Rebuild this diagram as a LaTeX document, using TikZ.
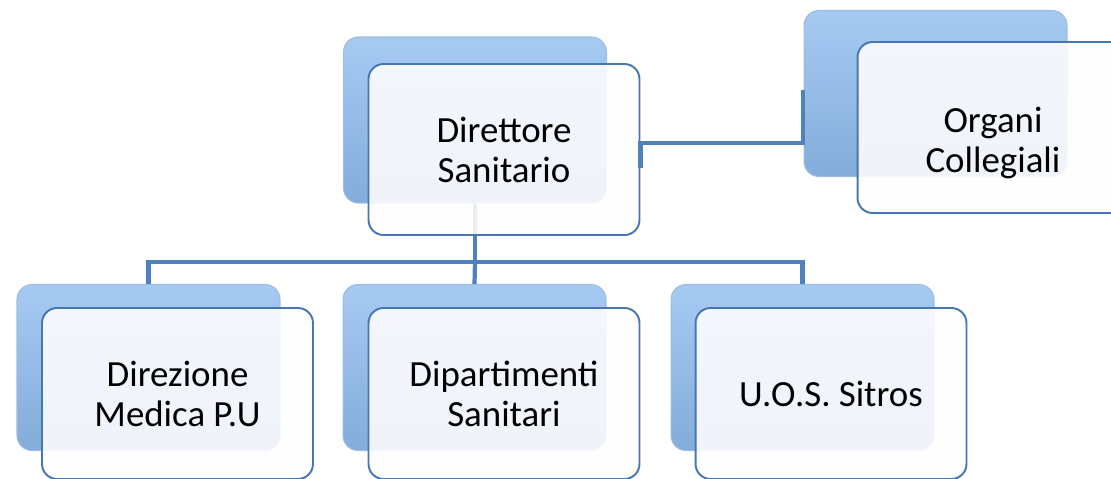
\documentclass[tikz,border=0pt]{standalone}
\usepackage{fontspec}
\setmainfont{Carlito}
\usepackage{xcolor}
\usepackage{tikz}
\usetikzlibrary{calc}

\definecolor{linkblue}{RGB}{79,129,189}
\definecolor{edgeblue}{RGB}{72,118,176}
\definecolor{backtop}{RGB}{166,202,242}
\definecolor{backbot}{RGB}{132,172,218}
\definecolor{frontfill}{RGB}{255,254,255}

\begin{document}
\begin{tikzpicture}[x=0.02cm, y=-0.02cm, font=\fontsize{21}{22.8}\selectfont]
		\tikzstyle{back} = [rectangle, rounded corners=0.3cm, draw=backbot!80!white, line width=0.6pt, top color=backtop, bottom color=backbot, minimum width=5.26cm, minimum height=3.32cm]
		\tikzstyle{front} = [rectangle, rounded corners=0.3cm, draw=edgeblue, line width=1.1pt, fill=frontfill, fill opacity=0.88, text opacity=1, minimum width=5.42cm, minimum height=3.42cm, align=center]
		\tikzstyle{link} = [draw=linkblue, line width=2.4pt]
		
		\useasboundingbox (0, 0) rectangle (1111, 479);
		
		\node[back]		at (475, 120)		(dsb)	{};
		\node[back]		at (935.5, 93.5)	(ocb)	{};
		\node[back]		at (148.5, 367.5)	(dmb)	{};
		\node[back]		at (474.5, 367.5)	(dpb)	{};
		\node[back]		at (802.5, 367.5)	(usb)	{};
		
		\coordinate (bus) at (475, 262);
		\coordinate (oc) at (803, 143);
		
		\draw [link] (dsb.south) -- (bus) -| (dmb.north);
		\draw [link] (bus) -- (dpb.north);
		\draw [link] (bus) -| (usb.north);
		
		\node[front]	at (504, 149.5)		(dsf)	{Direttore\\Sanitario};
		\node[front, label={[yshift=-0.31cm, align=center]center:Organi\\Collegiali}]
						at (993, 127.5)		(ocf)	{};
		\node[front]	at (177.5, 393.5)	(dmf)	{Direzione\\Medica P.U};
		\node[front]	at (504, 393.5)		(dpf)	{Dipartimenti\\Sanitari};
		\node[front]	at (831, 393.5)		(usf)	{U.O.S. Sitros};
		
		\draw [link] (dsf.east |- 0, 168) -- (dsf.east |- oc) -- (oc) -- ++(0, -53);
	\end{tikzpicture}
\end{document}
